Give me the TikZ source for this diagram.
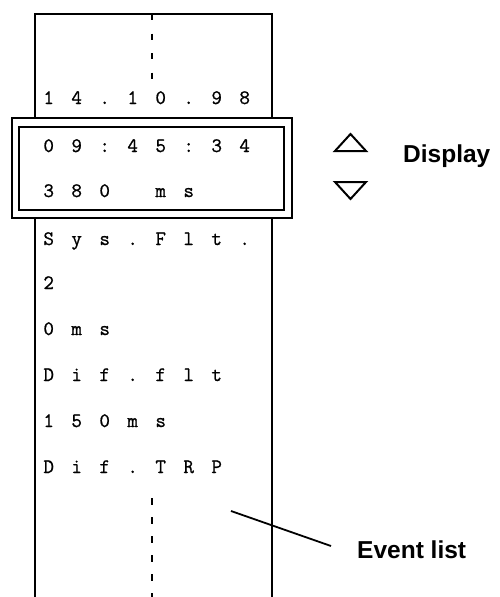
\documentclass[tikz,border=0pt]{standalone}
\usepackage{fontspec}
\newfontfamily\labelfont{Liberation Sans}
\newfontfamily\lcdfont{Latin Modern Mono}[FakeBold=0.9]
\makeatletter
\newcommand\lcdrow[1]{\lcd@a#1\relax}
\def\lcd@a#1{\ifx\relax#1\else\lcd@cell{#1}\expandafter\lcd@a\fi}
\def\lcd@cell#1{\makebox[28pt][c]{\if*#1\else#1\fi}}
\makeatother
\begin{document}
\begin{tikzpicture}[x=1pt,y=-1pt,
  frame/.style={line width=2pt},
  dbox/.style={line width=2.4pt, fill=white},
  dashline/.style={line width=2.6pt, dash pattern=on 6pt off 13.5pt},
  tri/.style={line width=2pt, line join=miter},
  lcd/.style={anchor=base west, inner sep=0pt, font=\lcdfont\bfseries\fontsize{20.5}{20.5}\selectfont},
  lab/.style={anchor=base west, inner sep=0pt, font=\labelfont\bfseries\fontsize{24.5}{24.5}\selectfont},
  leader/.style={line width=1.8pt}]
\useasboundingbox (0,0) rectangle (499,597);
% event list frame
\draw[frame] (35,597) -- (35,14) -- (272,14) -- (272,120);
\draw[frame] (272,216) -- (272,597);
% dashed centre lines
\draw[dashline] (152,14) -- (152,80);
\draw[dashline, dash pattern=on 6.5pt off 12.5pt] (152,498) -- (152,597);
% display window
\draw[dbox] (12,118) rectangle (292,218);
\draw[dbox] (19,127) rectangle (284,210);
% rows
\node[lcd] (r0) at (34.5,104) {\lcdrow{14.10.98}};
\node[lcd] (r1) at (34.5,152) {\lcdrow{09:45:34}};
\node[lcd] (r2) at (34.5,197) {\lcdrow{380*ms}};
\node[lcd] (r3) at (34.5,245) {\lcdrow{Sys.Flt.}};
\node[lcd] (r4) at (34.5,289) {\lcdrow{2}};
\node[lcd] (r5) at (34.5,335) {\lcdrow{0ms}};
\node[lcd] (r6) at (34.5,381) {\lcdrow{Dif.flt}};
\node[lcd] (r7) at (34.5,427) {\lcdrow{150ms}};
\node[lcd] (r8) at (34.5,473) {\lcdrow{Dif.TRP}};
% scroll arrows
\draw[tri] (335,151) -- (350.5,134) -- (366,151) -- cycle;
\draw[tri] (335,182) -- (350.5,199) -- (366,182) -- cycle;
% labels
\node[lab] (disp) at (403,162) {Display};
\node[lab] (evt) at (357,558) {Event list};
\coordinate (ptr) at (231,511);
\coordinate (ptrend) at (331,546);
\draw[leader] (ptr) -- (ptrend);
\end{tikzpicture}
\end{document}
